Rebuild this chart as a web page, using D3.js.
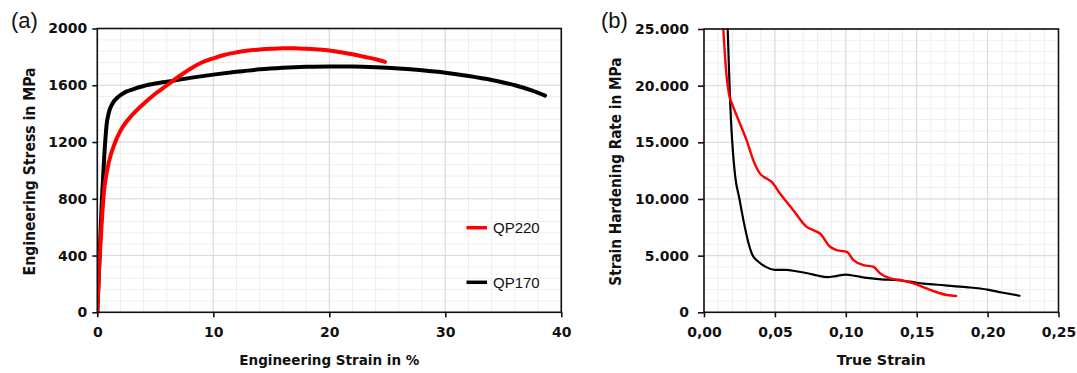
<!DOCTYPE html>
<html lang="en">
<head>
<meta charset="UTF-8">
<script src="https://cdn.jsdelivr.net/npm/d3@7/dist/d3.min.js"></script>
<style>
  * { margin: 0; padding: 0; }
  body { background: #fff; }
  svg { display: block; }
  .tick text { font-family: 'DejaVu Sans', sans-serif; font-weight: bold; font-size: 14px; fill: #111; }
  .title { font-family: 'DejaVu Sans', sans-serif; font-weight: bold; font-size: 14px; fill: #111; }
  .ytitle { font-family: 'DejaVu Sans', sans-serif; font-weight: bold; font-size: 15.5px; fill: #111; }
  .panel { font-family: 'Liberation Sans', Arial, sans-serif; font-size: 22px; fill: #111; }
  .legend { font-family: 'Liberation Sans', Arial, sans-serif; font-size: 15px; fill: #111; }
</style>
</head>
<body>
<svg id="chart" width="1077" height="373"></svg>
<script>
// (a) engineering stress-strain curves: [strain %, stress MPa]
var qp220Eng = [[0,0],[0.15,300],[0.3,520],[0.45,720],[0.6,870],[0.8,980],[1,1060],[1.5,1190],[2,1280],[3,1390],[4,1470],
  [5,1540],[6,1600],[7,1660],[8,1715],[9,1760],[10,1790],[11,1815],[12,1832],[13,1845],[14,1852],[15,1857],
  [16,1860],[17,1860],[18,1857],[19,1852],[20,1845],[21,1833],[22,1818],[23,1801],[24,1783],[24.8,1765]];
var qp170Eng = [[0,0],[0.2,400],[0.4,800],[0.6,1100],[0.8,1320],[1,1410],[1.3,1470],[1.7,1510],[2,1530],[2.5,1555],
  [3,1570],[4,1595],[5,1612],[6,1625],[8,1652],[10,1675],[12,1695],[14,1712],[16,1723],[18,1730],[20,1733],
  [22,1732],[24,1727],[26,1718],[28,1705],[30,1688],[32,1665],[34,1637],[36,1600],[37.5,1562],[38.6,1527]];

// (b) strain hardening rate: [true strain, rate MPa]
var qp220Rate = [[0.0136,25000],[0.016,20750],[0.0176,19280],[0.0207,18100],[0.0254,16640],[0.0301,15170],
  [0.0348,13410],[0.0395,12240],[0.0442,11800],[0.0477,11500],[0.0536,10480],[0.063,9010],[0.0724,7540],
  [0.0771,7250],[0.0818,6950],[0.0889,5780],[0.0936,5490],[0.1007,5340],[0.1054,4610],[0.1124,4170],
  [0.1195,4020],[0.1242,3430],[0.1312,2990],[0.1383,2850],[0.1477,2550],[0.1595,1970],[0.1712,1530],[0.1778,1440]];
var qp170Rate = [[0.0167,25000],[0.018,20000],[0.019,17000],[0.0205,14000],[0.022,12000],[0.025,10000],
  [0.028,8000],[0.031,6300],[0.034,5100],[0.038,4500],[0.043,4050],[0.05,3750],[0.058,3750],[0.065,3620],
  [0.073,3450],[0.08,3250],[0.087,3100],[0.093,3200],[0.1,3330],[0.107,3200],[0.115,3030],[0.125,2900],
  [0.135,2850],[0.145,2700],[0.155,2530],[0.17,2380],[0.185,2220],[0.2,2000],[0.21,1750],[0.2225,1460]];

var xTicksA = [0, 10, 20, 30, 40];
var yTicksA = [0, 400, 800, 1200, 1600, 2000];
var xTicksB = [0, 0.05, 0.10, 0.15, 0.20, 0.25];
var yTicksB = [0, 5000, 10000, 15000, 20000, 25000];
var legendNames = ['QP220', 'QP170'];
var colors = { red: '#ff0000', black: '#000000' };

var svg = d3.select('#chart');
svg.append('rect').attr('width', 1077).attr('height', 373).attr('fill', '#fff');

var deLocale = d3.formatLocale({ decimal: ',', thousands: '.', grouping: [3], currency: ['', ''] });

function panel(opt) {
  var x = d3.scaleLinear().domain(opt.xDomain).range([opt.left, opt.right]);
  var y = d3.scaleLinear().domain(opt.yDomain).range([opt.bottom, opt.top]);
  var g = svg.append('g');

  // minor grid
  g.append('g').selectAll('line').data(d3.range(opt.xDomain[0], opt.xDomain[1] + 1e-9, opt.xMinor))
    .join('line').attr('x1', function(d) { return x(d); }).attr('x2', function(d) { return x(d); })
    .attr('y1', opt.top).attr('y2', opt.bottom).attr('stroke', '#eeeeee').attr('stroke-width', 1);
  g.append('g').selectAll('line').data(d3.range(opt.yDomain[0], opt.yDomain[1] + 1e-9, opt.yMinor))
    .join('line').attr('y1', function(d) { return y(d); }).attr('y2', function(d) { return y(d); })
    .attr('x1', opt.left).attr('x2', opt.right).attr('stroke', '#eeeeee').attr('stroke-width', 1);
  // major grid
  g.append('g').selectAll('line').data(opt.xTicks)
    .join('line').attr('x1', function(d) { return x(d); }).attr('x2', function(d) { return x(d); })
    .attr('y1', opt.top).attr('y2', opt.bottom).attr('stroke', '#d9d9d9').attr('stroke-width', 1);
  g.append('g').selectAll('line').data(opt.yTicks)
    .join('line').attr('y1', function(d) { return y(d); }).attr('y2', function(d) { return y(d); })
    .attr('x1', opt.left).attr('x2', opt.right).attr('stroke', '#d9d9d9').attr('stroke-width', 1);

  // curves
  var clipId = 'clip-' + opt.name;
  svg.append('clipPath').attr('id', clipId).append('rect')
    .attr('x', opt.left).attr('y', opt.top - 1).attr('width', opt.right - opt.left).attr('height', opt.bottom - opt.top + 2);
  var line = d3.line().x(function(d) { return x(d[0]); }).y(function(d) { return y(d[1]); }).curve(d3.curveMonotoneX);
  opt.series.forEach(function(s) {
    g.append('path').datum(s.data).attr('d', line).attr('fill', 'none')
      .attr('stroke', s.color).attr('stroke-width', s.width)
      .attr('stroke-linejoin', 'round').attr('stroke-linecap', 'round')
      .attr('clip-path', 'url(#' + clipId + ')');
  });

  // frame
  g.append('rect').attr('x', opt.left).attr('y', opt.top)
    .attr('width', opt.right - opt.left).attr('height', opt.bottom - opt.top)
    .attr('fill', 'none').attr('stroke', '#111').attr('stroke-width', 1.6);

  // axes
  var xAxis = d3.axisBottom(x).tickValues(opt.xTicks).tickFormat(opt.xFormat).tickSize(5).tickPadding(8);
  var yAxis = d3.axisLeft(y).tickValues(opt.yTicks).tickFormat(opt.yFormat).tickSize(opt.yTickSize).tickPadding(opt.yPad);
  var gx = g.append('g').attr('transform', 'translate(0,' + opt.bottom + ')').call(xAxis);
  var gy = g.append('g').attr('transform', 'translate(' + opt.left + ',0)').call(yAxis);
  [gx, gy].forEach(function(a) {
    a.select('.domain').remove();
    a.selectAll('.tick line').attr('stroke', '#111').attr('stroke-width', 1.6);
    a.selectAll('.tick text').attr('font-family', null).attr('font-size', null);
  });
  gx.selectAll('.tick text').attr('dy', '0.85em');

  // titles
  svg.append('text').attr('class', 'title').attr('text-anchor', 'middle')
    .attr('x', (opt.left + opt.right) / 2).attr('y', opt.xTitleY)
    .attr('textLength', opt.xTitleLen).attr('lengthAdjust', 'spacingAndGlyphs').text(opt.xTitle);
  svg.append('text').attr('class', 'ytitle').attr('text-anchor', 'middle')
    .attr('transform', 'translate(' + opt.yTitleX + ',' + ((opt.top + opt.bottom) / 2 + 1) + ') rotate(-90)')
    .attr('textLength', opt.yTitleLen).attr('lengthAdjust', 'spacingAndGlyphs')
    .text(opt.yTitle);
  svg.append('text').attr('class', 'panel').attr('x', opt.panelX).attr('y', 28).text(opt.panel);
  return { x: x, y: y };
}

var pa = panel({
  name: 'a', left: 97.3, right: 561.3, top: 28.5, bottom: 312.3,
  xDomain: [0, 40], yDomain: [0, 2000], xMinor: 2, yMinor: 80,
  xTicks: xTicksA, yTicks: yTicksA,
  xFormat: d3.format('d'), yFormat: d3.format('d'), yTickSize: 5, yPad: 5,
  series: [{ data: qp170Eng, color: colors.black, width: 4 }, { data: qp220Eng, color: colors.red, width: 4 }],
  xTitle: 'Engineering Strain in %', xTitleY: 365, xTitleLen: 180,
  yTitle: 'Engineering Stress in  MPa', yTitleX: 35, yTitleLen: 208,
  panel: '(a)', panelX: 11
});

panel({
  name: 'b', left: 704, right: 1058.5, top: 29, bottom: 312.3,
  xDomain: [0, 0.25], yDomain: [0, 25000], xMinor: 0.01, yMinor: 1000,
  xTicks: xTicksB, yTicks: yTicksB,
  xFormat: deLocale.format('.2f'), yFormat: deLocale.format(',d'), yTickSize: 6, yPad: 9,
  series: [{ data: qp170Rate, color: colors.black, width: 2.2 }, { data: qp220Rate, color: colors.red, width: 2.4 }],
  xTitle: 'True Strain', xTitleY: 365, xTitleLen: 89,
  yTitle: 'Strain Hardening Rate in MPa', yTitleX: 621, yTitleLen: 228,
  panel: '(b)', panelX: 601
});

// legend in panel (a)
var legendColors = [colors.red, colors.black];
var lg = svg.append('g');
legendNames.forEach(function(name, i) {
  var yy = [227.7, 282.3][i];
  lg.append('line').attr('x1', 466.5).attr('x2', 487).attr('y1', yy).attr('y2', yy)
    .attr('stroke', legendColors[i]).attr('stroke-width', 3.5);
  lg.append('text').attr('class', 'legend').attr('x', 493).attr('y', yy + 5.5).text(name);
});
</script>
</body>
</html>
